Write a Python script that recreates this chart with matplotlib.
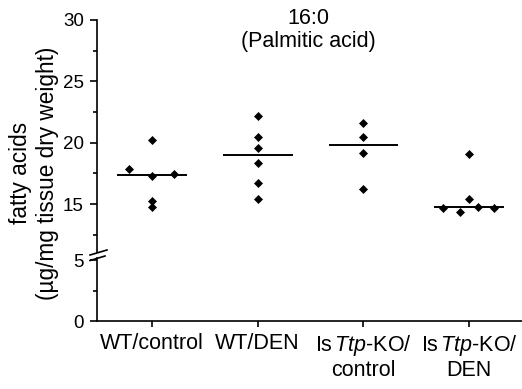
import matplotlib
matplotlib.use("Agg")
import matplotlib.pyplot as plt
from matplotlib.lines import Line2D

plt.rcParams['font.family'] = 'Liberation Sans'
plt.rcParams['mathtext.fontset'] = 'custom'
plt.rcParams['mathtext.rm'] = 'Liberation Sans'
plt.rcParams['mathtext.it'] = 'Liberation Sans:italic'

groups = ['WT/control', 'WT/DEN', 'Is$\\,\\it{Ttp}$-KO/\ncontrol', 'Is$\\,\\it{Ttp}$-KO/\nDEN']
values = [
    [20.19, 17.83, 17.29, 17.47, 15.22, 14.76],
    [22.14, 20.43, 19.57, 18.37, 16.74, 15.41],
    [21.57, 20.43, 19.16, 16.23],
    [19.10, 15.41, 14.68, 14.32, 14.76, 14.70],
]
# horizontal spread of overlapping points (category units)
spread = [
    [0, -0.22, 0, 0.21, 0, 0],
    [0, 0, 0, 0, 0, 0],
    [0, 0, 0, 0],
    [0, 0, -0.245, -0.085, 0.085, 0.235],
]
medians = [17.38, 18.97, 19.80, 14.73]

fig = plt.figure(figsize=(5.22, 3.89), dpi=100)
L = 97 / 522
ax_top = fig.add_axes([L, 137 / 389, 1 - L, 232 / 389])
ax_bot = fig.add_axes([L, 68 / 389, 1 - L, 63.4 / 389])

for ax in (ax_top, ax_bot):
    for i, (vals, offs) in enumerate(zip(values, spread)):
        ax.plot([i + o for o in offs], vals, 'D', color='black', ms=3.6, mew=0.5)
        ax.hlines(medians[i], i - 0.33, i + 0.33, color='black', lw=1.4)
    ax.set_xlim(-0.52, 3.5)
    ax.spines['top'].set_visible(False)
    ax.spines['right'].set_visible(False)
    ax.spines['left'].set_linewidth(1.2)
    ax.spines['bottom'].set_linewidth(1.2)
    ax.tick_params(axis='y', which='major', length=5, width=1.2, labelsize=13.5, pad=4.5)
    ax.tick_params(axis='y', which='minor', length=3, width=1.2)

ax_top.set_ylim(11.1, 30)
ax_top.set_yticks([15, 20, 25, 30])
ax_top.set_yticks([12.5, 17.5, 22.5, 27.5], minor=True)
ax_top.spines['bottom'].set_visible(False)
ax_top.set_xticks([])

ax_bot.set_ylim(0, 5.2)
ax_bot.set_yticks([0, 5])
ax_bot.set_yticks([2.5], minor=True)
ax_bot.set_xticks(range(len(groups)))
ax_bot.set_xticklabels(groups, fontsize=15.5, linespacing=1.15)
ax_bot.tick_params(axis='x', length=4.5, width=1.2, pad=4)

# axis break marks
for y0, y1, x1 in [(255, 250, 107), (260.5, 256, 105)]:
    fig.add_artist(Line2D([90 / 522, x1 / 522], [1 - y0 / 389, 1 - y1 / 389],
                          transform=fig.transFigure, color='black', lw=1.2))

fig.text(308 / 522, 1 - 18 / 389, '16:0', ha='center', va='center', fontsize=15.5)
fig.text(308 / 522, 1 - 41 / 389, '(Palmitic acid)', ha='center', va='center', fontsize=15.5)
fig.text(34 / 522, 1 - 173 / 389, 'fatty acids\n(\u00b5g/mg tissue dry weight)',
         rotation=90, ha='center', va='center', fontsize=16.3, linespacing=1.25)

fig.savefig('out.png', dpi=100)
